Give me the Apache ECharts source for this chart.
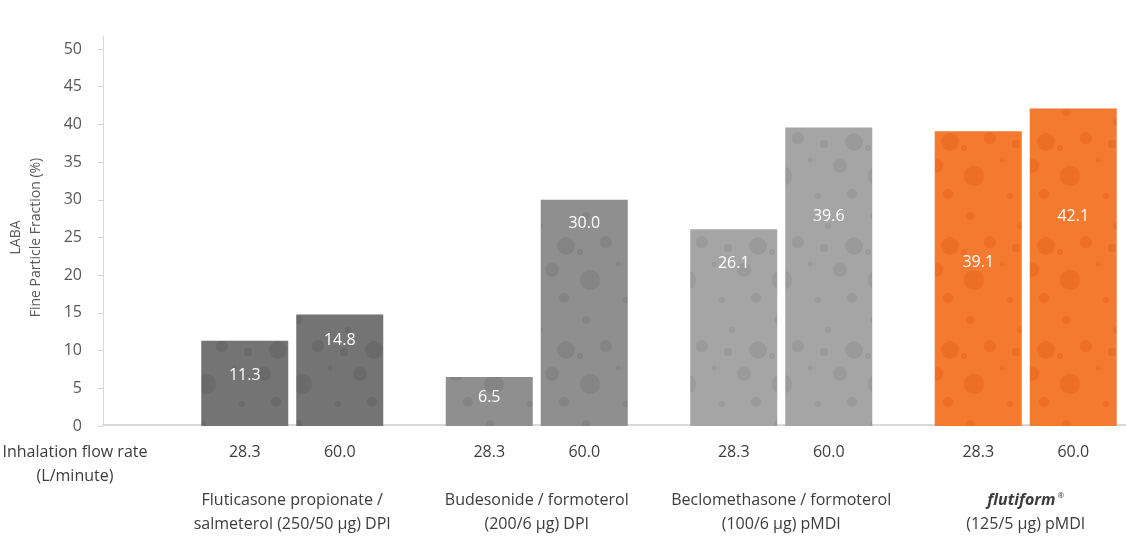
<!DOCTYPE html>
<html>
<head>
<meta charset="utf-8">
<style>
  html, body { margin: 0; padding: 0; background: #fff; }
  #chart { width: 1126px; height: 538px; }
</style>
<script src="https://cdn.jsdelivr.net/npm/echarts@6/dist/echarts.min.js"></script>
</head>
<body>
<div id="chart"></div>
<script>
// LABA fine particle fraction (%) per inhaler at two inhalation flow rates
const products = [
  'Fluticasone propionate /\nsalmeterol (250/50 µg) DPI',
  'Budesonide / formoterol\n(200/6 µg) DPI',
  'Beclomethasone / formoterol\n(100/6 µg) pMDI',
  'flutiform®\n(125/5 µg) pMDI'
]
const flowRates = ['28.3', '60.0']
const fpfLow = [11.3, 6.5, 26.1, 39.1]    // 28.3 L/min
const fpfHigh = [14.8, 30.0, 39.6, 42.1]  // 60.0 L/min
const yMin = 0, yMax = 50, yStep = 5

// styling only
const baseColors = ['#747474', '#8f8f8f', '#a6a5a6', '#f47a30']
const dotColors = ['#6a6a6a', '#858485', '#9b9a9b', '#ed6e25']
const labelShiftLow = [-8, -4, -64, -16]
const labelShiftHigh = [-30, -89, -60, -51]
const FONT = '"Open Sans", "Noto Sans", sans-serif'
const TEXT = '#3c3c3c'

// bubbly texture for the bars
function dotted(base, dot) {
  const c = document.createElement('canvas')
  c.width = 96
  c.height = 104
  const g = c.getContext('2d')
  g.fillStyle = base
  g.fillRect(0, 0, 96, 104)
  g.fillStyle = dot
  const dots = [[10, 8, 4], [60, 18, 3], [86, 38, 9], [30, 34, 6], [72, 62, 7], [14, 72, 10],
    [50, 92, 3], [84, 90, 5], [42, 56, 2.5], [4, 44, 3], [56, 40, 4]]
  dots.forEach(([x, y, r]) => {
    g.beginPath()
    g.arc(x, y, r, 0, Math.PI * 2)
    g.fill()
  })
  return c
}
const patterns = baseColors.map((b, i) => ({ image: dotted(b, dotColors[i]), repeat: 'repeat' }))

function barData(values, shifts) {
  return values.map((v, i) => ({
    value: v,
    itemStyle: { color: patterns[i] },
    label: { offset: [0, shifts[i]] }
  }))
}

function productLabel(name) {
  const rates = flowRates.map(r => `{r|${r}}`).join('')
  const lines = name.split('\n').map(l => {
    if (l.startsWith('flutiform')) return '{b|flutiform}{s|®}'
    return `{g|${l}}`
  })
  return [rates, '{g| }', ...lines].join('\n')
}

const chart = echarts.init(document.getElementById('chart'))

const barLabel = {
  show: true,
  position: 'inside',
  color: '#fff',
  fontSize: 16,
  fontFamily: FONT,
  formatter: p => p.value.toFixed(1)
}

chart.setOption({
  backgroundColor: '#fff',
  animation: false,
  grid: [
    { left: 170, right: -22, top: 49, bottom: 112, outerBoundsMode: 'none' },
    { left: 103, right: 0, top: 36, bottom: 113, outerBoundsMode: 'none' }
  ],
  xAxis: [
    {
      type: 'category',
      gridIndex: 0,
      data: products,
      axisLine: { show: false },
      axisTick: { show: false },
      axisLabel: {
        interval: 0,
        margin: 14,
        lineHeight: 24,
        color: TEXT,
        fontSize: 16,
        fontFamily: FONT,
        formatter: productLabel,
        rich: {
          r: { width: 95, align: 'center', fontSize: 16, lineHeight: 24, color: TEXT, fontFamily: FONT },
          g: { fontSize: 16, lineHeight: 24, color: TEXT, fontFamily: FONT },
          b: { fontSize: 16, lineHeight: 24, color: TEXT, fontFamily: FONT, fontStyle: 'italic', fontWeight: 'bold' },
          s: { fontSize: 8, lineHeight: 24, color: TEXT, fontFamily: FONT, padding: [0, 0, 8, 2] }
        }
      }
    },
    {
      type: 'category',
      gridIndex: 1,
      data: [''],
      axisLine: { lineStyle: { color: '#d9d9d9', width: 2 } },
      axisTick: { show: false },
      axisLabel: { show: false }
    }
  ],
  yAxis: [
    {
      type: 'value',
      gridIndex: 0,
      min: yMin,
      max: yMax,
      interval: yStep,
      offset: 67,
      name: 'LABA\nFine Particle Fraction (%)',
      nameLocation: 'middle',
      nameRotate: 90,
      nameGap: 57,
      nameMoveOverlap: false,
      nameTextStyle: { color: '#595959', fontSize: 14, fontFamily: FONT, lineHeight: 20 },
      axisLine: { show: false },
      axisTick: { show: true, length: 5, lineStyle: { color: '#d9d9d9' } },
      axisLabel: { color: '#595959', fontSize: 16, fontFamily: FONT, margin: 21 },
      splitLine: { show: false }
    },
    {
      type: 'value',
      gridIndex: 1,
      min: 0,
      max: 1,
      axisLine: { show: true, lineStyle: { color: '#d9d9d9', width: 1 } },
      axisTick: { show: false },
      axisLabel: { show: false },
      splitLine: { show: false }
    }
  ],
  graphic: [
    {
      type: 'text',
      x: 75,
      y: 440,
      style: {
        text: 'Inhalation flow rate\n(L/minute)',
        textAlign: 'center',
        textVerticalAlign: 'top',
        fontSize: 16,
        fontFamily: FONT,
        lineHeight: 24,
        fill: TEXT
      }
    }
  ],
  series: [
    {
      name: flowRates[0],
      type: 'bar',
      xAxisIndex: 0,
      yAxisIndex: 0,
      barWidth: 87,
      barGap: '9.2%',
      label: barLabel,
      data: barData(fpfLow, labelShiftLow)
    },
    {
      name: flowRates[1],
      type: 'bar',
      xAxisIndex: 0,
      yAxisIndex: 0,
      barWidth: 87,
      barGap: '9.2%',
      label: barLabel,
      data: barData(fpfHigh, labelShiftHigh)
    }
  ]
})
</script>
</body>
</html>
